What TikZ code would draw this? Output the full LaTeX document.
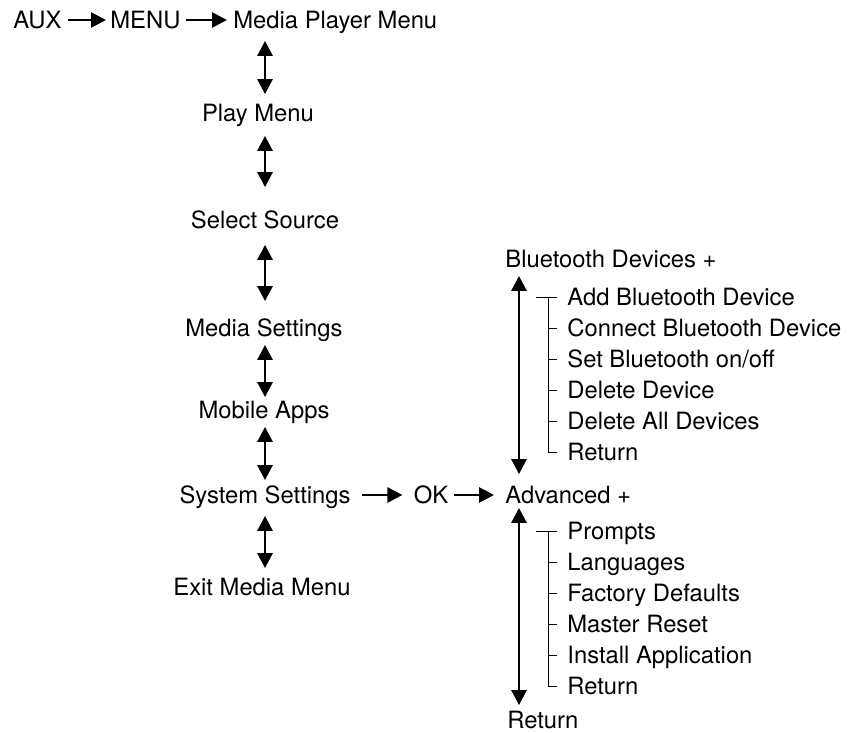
\documentclass[tikz,border=0pt]{standalone}
\usepackage{fontspec}
\setmainfont{TeX Gyre Heros}
\usetikzlibrary{arrows.meta}

\begin{document}
\begin{tikzpicture}[x=0.5pt,y=-0.5pt,>={Triangle[length=7.5pt,width=7.5pt]},
  txt/.style={inner sep=0pt,text height=8.5pt,text depth=0pt,font=\fontsize{11.9}{14}\selectfont},
  arr/.style={line width=1.4pt,->},
  dbl/.style={line width=1.4pt,<->},
  tree/.style={line width=0.5pt}]
\useasboundingbox (0,0) rectangle (851,733);
\coordinate (col) at (265,0);
\node[txt,anchor=west] (aux) at (13,20) {AUX};
\node[txt,anchor=west] (menu) at (110,20) {MENU};
\node[txt,anchor=west] (mpm) at (233,20) {Media Player Menu};
\node[txt] (play) at (258,113) {Play Menu};
\node[txt] (source) at (265,220) {Select Source};
\node[txt] (settings) at (264,328) {Media Settings};
\node[txt] (apps) at (264,410) {Mobile Apps};
\node[txt] (system) at (265,495) {System Settings};
\node[txt] (exit) at (262,587) {Exit Media Menu};
\node[txt] (ok) at (431,495) {OK};
\node[txt,anchor=west] (bt) at (505,259) {Bluetooth Devices +};
\node[txt,anchor=west] (adv) at (505,495) {Advanced +};
\node[txt,anchor=west] (ret) at (507,720) {Return};
\foreach \t [count=\i] in {Add Bluetooth Device,Connect Bluetooth Device,Set Bluetooth on/off,Delete Device,Delete All Devices,Return}
  \node[txt,anchor=west] (bt\i) at (567,{266+31*\i}) {\t};
\foreach \t [count=\i] in {Prompts,Languages,Factory Defaults,Master Reset,Install Application,Return}
  \node[txt,anchor=west] (ad\i) at (567,{500+31*\i}) {\t};

\draw[arr,shorten <=3pt,shorten >=2pt] (aux) -- (menu);
\draw[arr,shorten <=2.5pt,shorten >=3pt] (menu) -- (mpm);
\draw[arr,shorten <=5.5pt,shorten >=5.5pt] (system) -- (ok);
\draw[arr,shorten <=2.5pt,shorten >=5.5pt] (ok) -- (adv);

\draw[dbl,shorten <=6pt,shorten >=5pt] (mpm.south -| col) -- (play.north -| col);
\draw[dbl,shorten <=7pt,shorten >=12pt] (play.south -| col) -- (source.north -| col);
\draw[dbl,shorten <=8pt,shorten >=9pt] (source.south -| col) -- (settings.north -| col);
\draw[dbl,shorten <=4pt,shorten >=2pt] (settings.south -| col) -- (apps.north -| col);
\draw[dbl,shorten <=4pt,shorten >=3pt] (apps.south -| col) -- (system.north -| col);
\draw[dbl,shorten <=6pt,shorten >=5pt] (system.south -| col) -- (exit.north -| col);

\draw[dbl,shorten <=4pt,shorten >=6pt] ([xshift=7pt]bt.south west) -- ([xshift=7pt]adv.north west);
\draw[dbl,shorten <=2pt,shorten >=3pt] ([xshift=7pt]adv.south west) -- ([xshift=6pt]ret.north west);

\draw[tree] ([xshift=-15.5pt]bt1.west) -- ([xshift=-5pt]bt1.west);
\draw[tree] ([xshift=-9.5pt]bt1.west) |- ([xshift=-5pt]bt6.west);
\foreach \i in {2,...,5}
  \draw[tree] ([xshift=-9.5pt]bt\i.west) -- ([xshift=-5pt]bt\i.west);
\draw[tree] ([xshift=-15.5pt]ad1.west) -- ([xshift=-5pt]ad1.west);
\draw[tree] ([xshift=-9.5pt]ad1.west) |- ([xshift=-5pt]ad6.west);
\foreach \i in {2,...,5}
  \draw[tree] ([xshift=-9.5pt]ad\i.west) -- ([xshift=-5pt]ad\i.west);
\end{tikzpicture}
\end{document}
